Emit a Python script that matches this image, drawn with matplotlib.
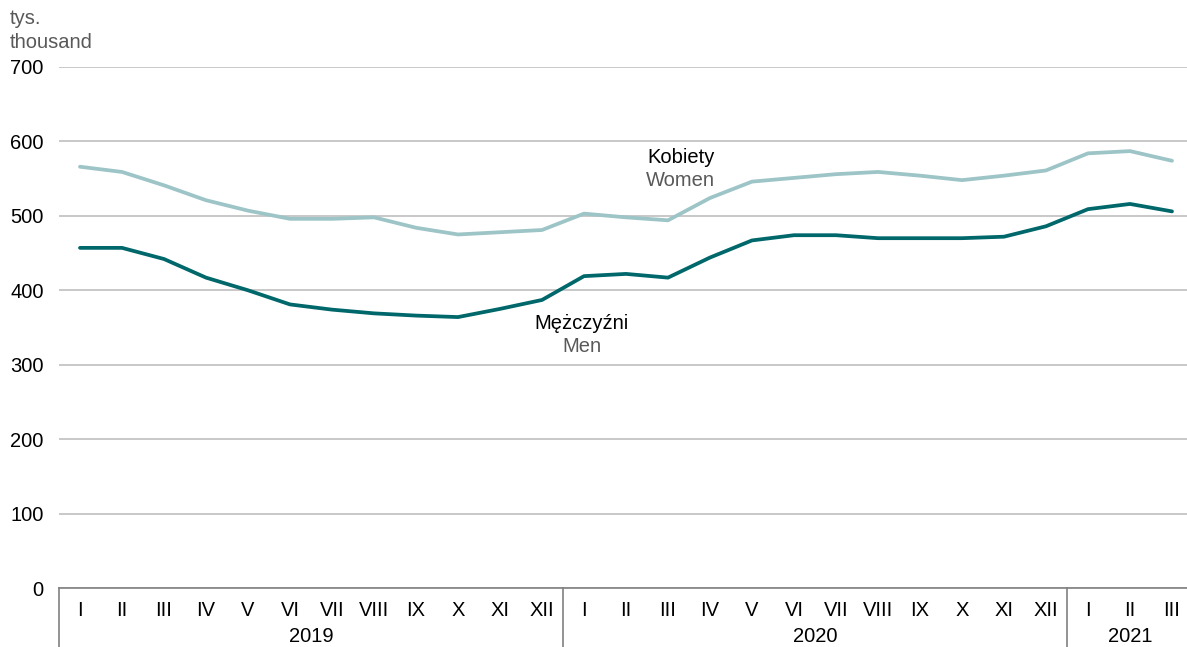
import matplotlib.pyplot as plt
from matplotlib.transforms import blended_transform_factory

plt.rcParams['font.family'] = ['Liberation Sans', 'DejaVu Sans']

months = ["I", "II", "III", "IV", "V", "VI", "VII", "VIII", "IX", "X", "XI", "XII"]
labels = months + months + months[:3]
years = ["2019", "2020", "2021"]
year_len = [12, 12, 3]

women = [566, 559, 541, 521, 507, 496, 496, 498, 484, 475, 478, 481,
         503, 498, 494, 524, 546, 551, 556, 559, 554, 548, 554, 561,
         584, 587, 574]
men = [457, 457, 442, 417, 400, 381, 374, 369, 366, 364, 375, 387,
       419, 422, 417, 444, 467, 474, 474, 470, 470, 470, 472, 486,
       509, 516, 506]

x = list(range(len(labels)))
fs = 14.5

fig = plt.figure(figsize=(11.87, 6.47), dpi=100)
ax = fig.add_axes([59 / 1187, 1 - 588 / 647, 1134 / 1187, 521 / 647])

ax.plot(x, women, color="#9DC4C6", lw=2.7, solid_capstyle="round", zorder=3)
ax.plot(x, men, color="#00676B", lw=2.7, solid_capstyle="round", zorder=3)

ax.set_xlim(-0.5, len(labels) - 0.5)
ax.set_ylim(0, 700)
ax.set_yticks(range(0, 701, 100))
ax.tick_params(axis="y", length=0, labelsize=fs, pad=11)
ax.grid(axis="y", color="#BFBFBF", lw=1.2)
ax.set_axisbelow(True)
for s in ["top", "right", "left"]:
    ax.spines[s].set_visible(False)
ax.spines["bottom"].set_color("#808080")
ax.spines["bottom"].set_linewidth(1.2)

ax.set_xticks(x)
ax.set_xticklabels(labels, fontsize=fs)
ax.tick_params(axis="x", length=0, pad=9)

trans = blended_transform_factory(ax.transData, ax.transAxes)
start = 0
bounds = [-0.5]
for yr, n in zip(years, year_len):
    ax.text(start + (n - 1) / 2, -0.093, yr, transform=trans, ha="center",
            va="center", fontsize=fs)
    start += n
    bounds.append(start - 0.5)
for b in bounds[:-1]:
    ax.plot([b, b], [0, -0.12], transform=trans, color="#808080", lw=1.2,
            clip_on=False)

ax.text(14.3, 578, "Kobiety", ha="center", va="center", fontsize=fs, color="#000000")
ax.text(14.3, 547, "Women", ha="center", va="center", fontsize=fs, color="#595959")
ax.text(11.95, 356, "Mężczyźni", ha="center", va="center", fontsize=fs, color="#000000")
ax.text(11.95, 325, "Men", ha="center", va="center", fontsize=fs, color="#595959")

fig.text(10 / 1187, 1 - 18 / 647, "tys.", ha="left", va="center", fontsize=fs, color="#595959")
fig.text(10 / 1187, 1 - 42 / 647, "thousand", ha="left", va="center", fontsize=fs, color="#595959")

fig.savefig("out.png", dpi=100)
